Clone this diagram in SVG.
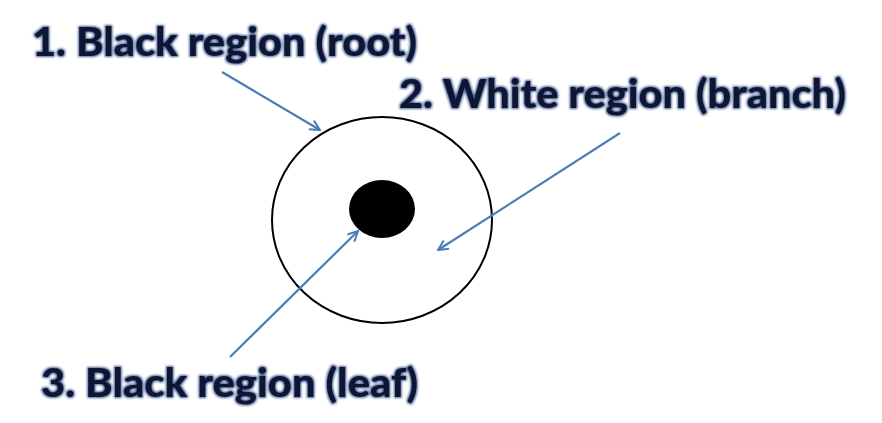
<svg xmlns="http://www.w3.org/2000/svg" width="882" height="423" viewBox="0 0 882 423">
<defs>
<style>
.lbl{font-family:Lato,"Open Sans","Liberation Sans",sans-serif;font-weight:900;font-size:39px;fill:#0c1733;filter:url(#glow)}
.arr{stroke:#4a7ebb;stroke-width:2.2;fill:none;marker-end:url(#ah)}
</style>
<filter id="glow" x="-5%" y="-30%" width="110%" height="160%">
<feMorphology in="SourceAlpha" operator="dilate" radius="1" result="d"/>
<feGaussianBlur in="d" stdDeviation="1.2" result="b"/>
<feFlood flood-color="#1f3a78" flood-opacity="0.8"/>
<feComposite in2="b" operator="in" result="s"/>
<feMerge><feMergeNode in="s"/><feMergeNode in="SourceGraphic"/></feMerge>
</filter>
<marker id="ah" viewBox="0 0 12 12" refX="11" refY="6" markerWidth="12" markerHeight="12" markerUnits="userSpaceOnUse" orient="auto">
<path d="M1,1 L11,6 L1,11" fill="none" stroke="#4a7ebb" stroke-width="2"/>
</marker>
</defs>
<rect width="882" height="423" fill="#fff"/>
<g id="outer"><ellipse cx="382" cy="220" rx="110" ry="103" fill="#fff" stroke="#000" stroke-width="2"/></g>
<g id="inner"><ellipse cx="382" cy="209" rx="33" ry="29" fill="#000"/></g>
<g id="connectors">
<line class="arr" x1="222" y1="72" x2="320" y2="130"/>
<line class="arr" x1="620" y1="133" x2="438" y2="250"/>
<line class="arr" x1="230" y1="357" x2="358" y2="231"/>
</g>
<g id="label1"><text class="lbl" x="32" y="56" textLength="385" lengthAdjust="spacingAndGlyphs">1. Black region (root)</text></g>
<g id="label2"><text class="lbl" x="399" y="108" textLength="447" lengthAdjust="spacingAndGlyphs">2. White region (branch)</text></g>
<g id="label3"><text class="lbl" x="41" y="397" textLength="377" lengthAdjust="spacingAndGlyphs">3. Black region (leaf)</text></g>
</svg>
